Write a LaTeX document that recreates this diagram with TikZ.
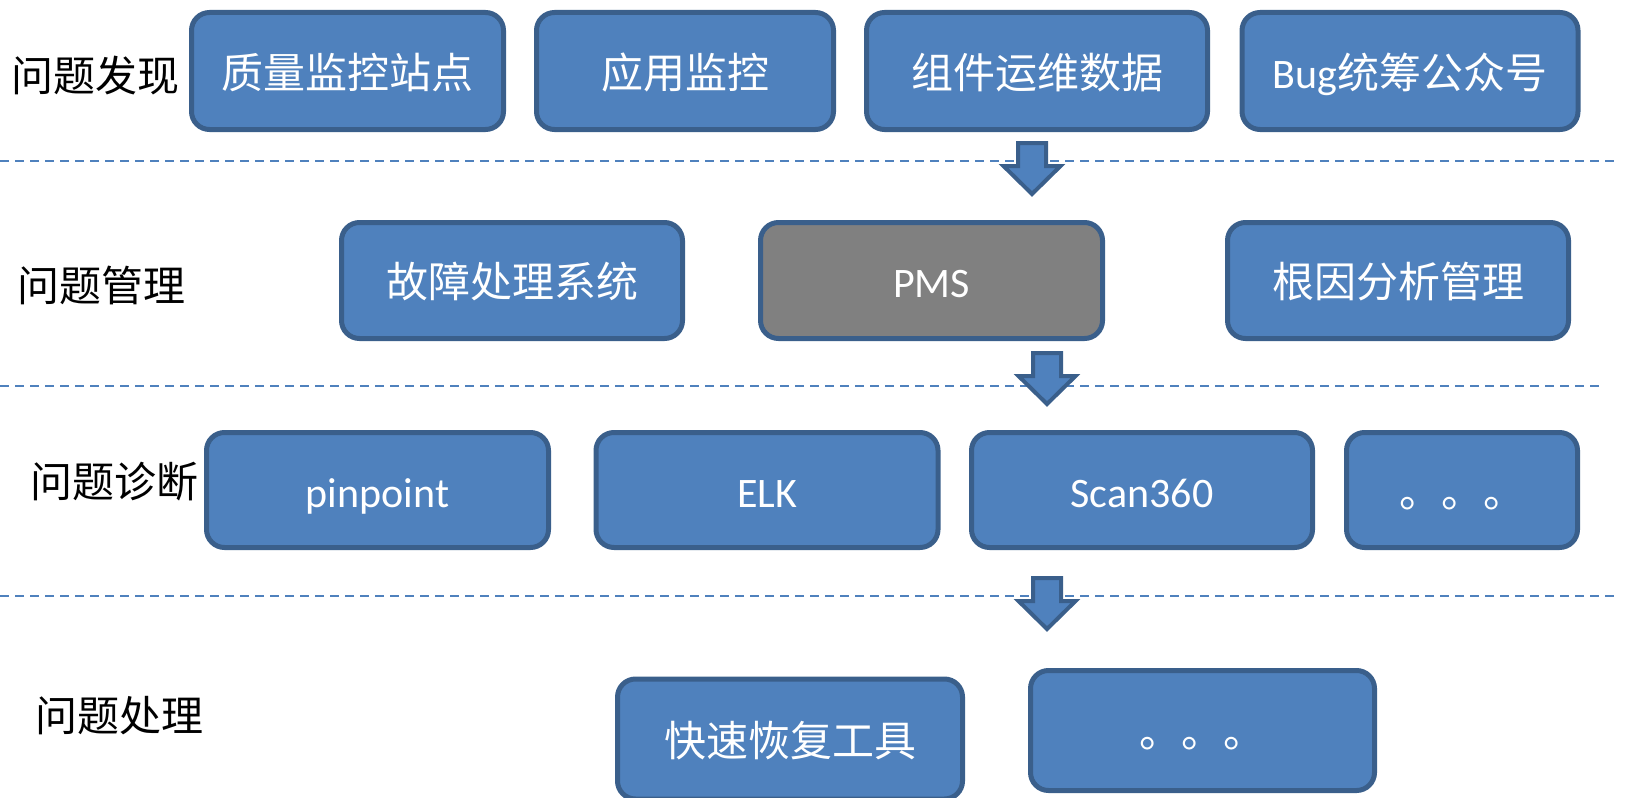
\documentclass[tikz,border=0pt]{standalone}
\usepackage{fontspec}
\setmainfont{Carlito}
\newfontfamily\cjk{Noto Sans CJK SC}
\definecolor{boxfill}{HTML}{4F81BD}
\definecolor{boxline}{HTML}{3A5F8B}
\definecolor{pmsfill}{HTML}{808080}
\tikzset{
  box/.style={draw=boxline, fill=boxfill, line width=2.5pt, rounded corners=9pt,
    text=white, font=\fontsize{21}{25}\selectfont, inner sep=0pt,
    text height=18pt, text depth=0.7pt},
  greybox/.style={box, fill=pmsfill},
  stage/.style={font={\cjk\fontsize{21}{25}\selectfont}, text=black, inner sep=0pt},
  sep/.style={draw=boxfill, line width=1pt, dash pattern=on 4.5pt off 3pt},
  downarrow/.style={draw=boxline, fill=boxfill, line width=2pt, line join=miter}
}
\begin{document}
\begin{tikzpicture}[x=0.5pt, y=-0.5pt]
\useasboundingbox (0,0) rectangle (1626,797);

% stage separators
\coordinate (s1l) at (0,161);   \coordinate (s1r) at (1620,161);
\coordinate (s2l) at (0,386);   \coordinate (s2r) at (1602,386);
\coordinate (s3l) at (0,596);   \coordinate (s3r) at (1616,596);
\draw[sep] (s1l) -- (s1r);
\draw[sep] (s2l) -- (s2r);
\draw[sep] (s3l) -- (s3r);

% stage labels
\node[stage] (lab1) at (95,76)  {问题发现};
\node[stage] (lab2) at (102,285) {问题管理};
\node[stage] (lab3) at (114,482) {问题诊断};
\node[stage] (lab4) at (119,716) {问题处理};

% row 1: discovery
\node[box, minimum width=156pt, minimum height=58.5pt] (d1) at (347.5,71) {\cjk 质量监控站点};
\node[box, minimum width=148.5pt, minimum height=58.5pt] (d2) at (685,71) {\cjk 应用监控};
\node[box, minimum width=170.5pt, minimum height=58.5pt] (d3) at (1037,71) {\cjk 组件运维数据};
\node[box, minimum width=168pt, minimum height=58.5pt] (d4) at (1410,71) {Bug{\cjk 统筹公众号}};

% row 2: management
\node[box, minimum width=170.5pt, minimum height=58pt] (m1) at (512,280.5) {\cjk 故障处理系统};
\node[greybox, minimum width=171pt, minimum height=58pt] (m2) at (931.5,280.5) {PMS};
\node[box, minimum width=170.5pt, minimum height=58pt] (m3) at (1398,280.5) {\cjk 根因分析管理};

% row 3: diagnosis
\node[box, minimum width=171pt, minimum height=57.5pt] (g1) at (377.5,490) {pinpoint};
\node[box, minimum width=171pt, minimum height=57.5pt] (g2) at (767,490) {ELK};
\node[box, minimum width=170.5pt, minimum height=57.5pt] (g3) at (1142,490) {Scan360};
\node[box, minimum width=115.5pt, minimum height=57.5pt] (g4) at (1462,490) {\cjk 。。。};

% row 4: handling
\node[box, minimum width=172.5pt, minimum height=60pt] (h1) at (790,739) {\cjk 快速恢复工具};
\node[box, minimum width=172pt, minimum height=60pt] (h2) at (1202.5,730.5) {\cjk 。。。};

% block arrows between stages
\coordinate (a1) at (1032,143);
\coordinate (a2) at (1047,353);
\coordinate (a3) at (1047,578);
\foreach \a in {a1,a2,a3}{
  \draw[downarrow] (\a) ++(-14,0) -- ++(0,23) -- ++(-14.5,0) -- ++(28.5,28)
    -- ++(28.5,-28) -- ++(-14.5,0) -- ++(0,-23) -- cycle;
}
\end{tikzpicture}
\end{document}
